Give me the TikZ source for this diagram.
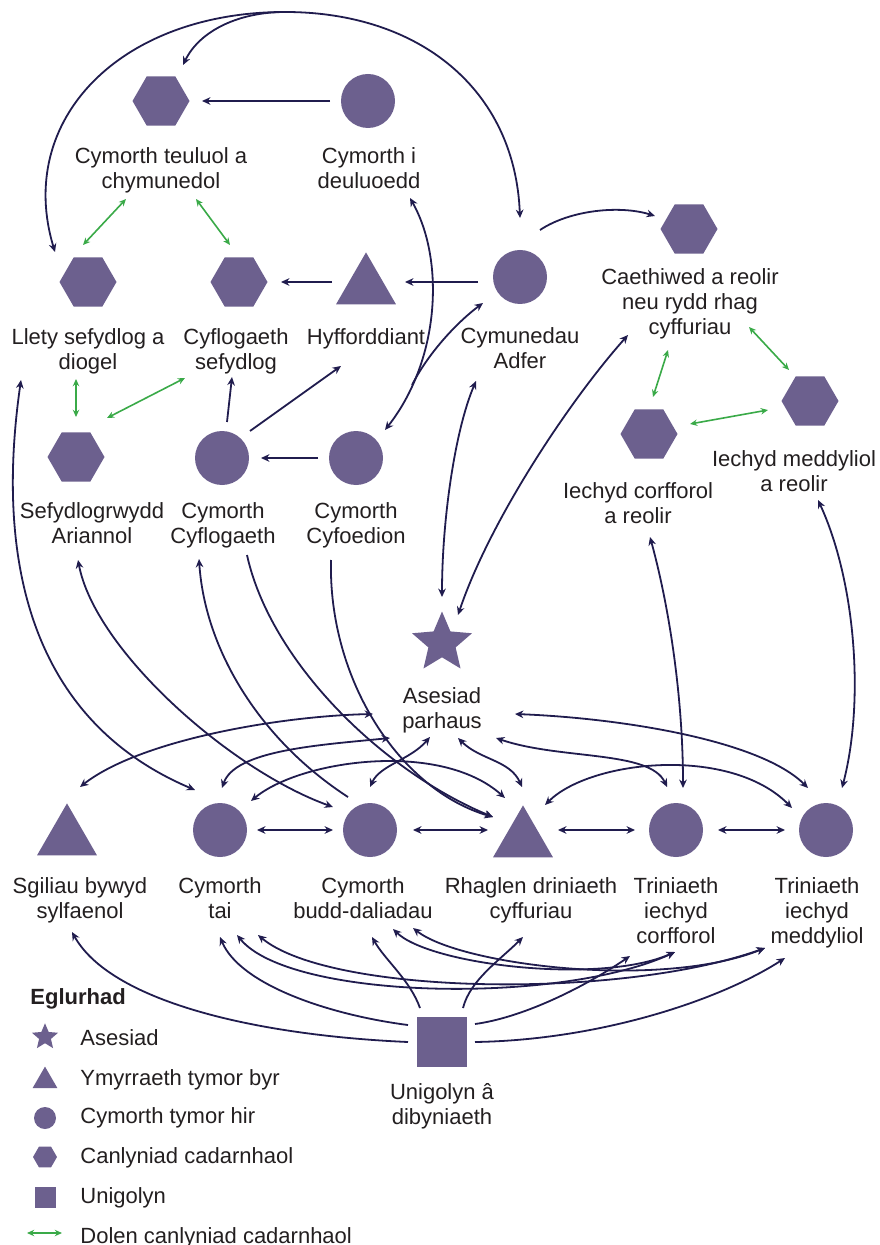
\documentclass[tikz,border=0pt]{standalone}
\usepackage{fontspec}
\setmainfont{Liberation Sans}
\usetikzlibrary{shapes.geometric,arrows.meta,calc}
\definecolor{shp}{RGB}{108,96,142}
\definecolor{lnk}{RGB}{32,28,78}
\definecolor{grn}{RGB}{58,170,72}
\definecolor{txt}{RGB}{35,31,32}
\begin{document}
\begin{tikzpicture}[x=0.5pt,y=-0.5pt,
  hexs/.style={regular polygon,regular polygon sides=6,minimum size=28.5pt,inner sep=0pt,fill=shp,draw=none},
  tris/.style={regular polygon,regular polygon sides=3,minimum size=34.6pt,inner sep=0pt,fill=shp,draw=none},
  circs/.style={circle,minimum size=27pt,inner sep=0pt,fill=shp,draw=none},
  stars/.style={star,star points=5,star point ratio=2.2,minimum size=31.5pt,inner sep=0pt,fill=shp,draw=none},
  sqs/.style={rectangle,minimum size=25pt,inner sep=0pt,fill=shp,draw=none},
  lbl/.style={anchor=north,align=center,inner sep=0pt,font=\fontsize{11}{12.5}\selectfont,text=txt},
  legtxt/.style={anchor=base west,inner sep=0pt,font=\fontsize{11}{12.5}\selectfont,text=txt},
  lnkarr/.style={draw=lnk,line width=0.9pt,-{Stealth[length=4.2pt,width=3.8pt]}},
  lnkbi/.style={draw=lnk,line width=0.9pt,{Stealth[length=4.2pt,width=3.8pt]}-{Stealth[length=4.2pt,width=3.8pt]}},
  grnbi/.style={draw=grn,line width=0.8pt,{Stealth[length=3.6pt,width=3.2pt]}-{Stealth[length=3.6pt,width=3.2pt]}}
]
\fill[white] (0,0) rectangle (879,1245);
\useasboundingbox (0,0) rectangle (879,1245);

% ---- nodes ----
\node[hexs] (cte) at (161,101) {};
\node[lbl] (cteL) at (161,147) {Cymorth teuluol a\\chymunedol};
\node[circs] (cid) at (368,101) {};
\node[lbl] (cidL) at (369,147) {Cymorth i\\deuluoedd};
\node[hexs] (llety) at (88,282) {};
\node[lbl] (lletyL) at (88,328) {Llety sefydlog a\\diogel};
\node[hexs] (cyfs) at (239,282) {};
\node[lbl] (cyfsL) at (236,328) {Cyflogaeth\\sefydlog};
\node[tris] (hyff) at (366,287) {};
\node[lbl] (hyffL) at (366,328) {Hyfforddiant};
\node[circs] (cadf) at (520,277) {};
\node[lbl] (cadfL) at (520,327) {Cymunedau\\Adfer};
\node[hexs] (caeth) at (689,229) {};
\node[lbl] (caethL) at (690,268) {Caethiwed a reolir\\neu rydd rhag\\cyffuriau};
\node[hexs] (sef) at (76,457) {};
\node[lbl] (sefL) at (92,502) {Sefydlogrwydd\\Ariannol};
\node[circs] (ccyf) at (222,458) {};
\node[lbl] (ccyfL) at (223,502) {Cymorth\\Cyflogaeth};
\node[circs] (cyfo) at (356,458) {};
\node[lbl] (cyfoL) at (356,502) {Cymorth\\Cyfoedion};
\node[hexs] (iecc) at (649,434) {};
\node[lbl] (ieccL) at (638,482) {Iechyd corfforol\\a reolir};
\node[hexs] (iecm) at (810,401) {};
\node[lbl] (iecmL) at (794,450) {Iechyd meddyliol\\a reolir};
\node[stars] (ases) at (442,643) {};
\node[lbl] (asesL) at (442,687) {Asesiad\\parhaus};
\node[tris] (sgil) at (67,838) {};
\node[lbl] (sgilL) at (80,877) {Sgiliau bywyd\\sylfaenol};
\node[circs] (tai) at (220,830) {};
\node[lbl] (taiL) at (220,877) {Cymorth\\tai};
\node[circs] (budd) at (370,830) {};
\node[lbl] (buddL) at (363,877) {Cymorth\\budd-daliadau};
\node[tris] (rhag) at (523,840) {};
\node[lbl] (rhagL) at (531,877) {Rhaglen driniaeth\\cyffuriau};
\node[circs] (tcor) at (676,830) {};
\node[lbl] (tcorL) at (676,877) {Triniaeth\\iechyd\\corfforol};
\node[circs] (tmed) at (826,830) {};
\node[lbl] (tmedL) at (817,877) {Triniaeth\\iechyd\\meddyliol};
\node[sqs] (unig) at (442,1042) {};
\node[lbl] (unigL) at (442,1083) {Unigolyn â\\dibyniaeth};

\coordinate (topc) at (285,12);
\coordinate (brB) at (412,385);

% ---- straight arrows ----
\draw[lnkarr] ($(cid)+(-38,0)$) -- ($(cte)+(41,0)$);
\draw[lnkarr] ($(hyff)+(-34,-5)$) -- ($(cyfs)+(42,0)$);
\draw[lnkarr] ($(cadf)+(-42,5)$) -- ($(hyff)+(39,-5)$);
\draw[lnkarr] ($(cyfo)+(-38,0)$) -- ($(ccyf)+(39,0)$);
\draw[lnkarr] ($(ccyf)+(5,-36)$) -- ($(cyfs)+(-7,95)$);
\draw[lnkarr] ($(ccyf)+(28,-27)$) -- ($(hyff)+(-25,79)$);

% ---- curved connectors ----
\draw[lnkbi] ($(cyfo)+(29,-28)$) .. controls (440,360) and (445,260) .. ($(cid)+(42,97)$);
\draw[lnkarr] (brB) .. controls (430,350) and (460,320) .. ($(cadf)+(-37,26)$);
\draw[lnkbi] ($(llety)+(-33,-30)$) .. controls (15,120) and (120,12) .. (topc) .. controls (420,12) and (515,90) .. ($(cadf)+(0,-59)$);
\draw[lnkarr] (topc) .. controls (240,12) and (200,30) .. ($(cte)+(22,-36)$);
\draw[lnkarr] ($(cadf)+(20,-47)$) .. controls (570,210) and (620,205) .. ($(caeth)+(-34,-13)$);
\draw[lnkbi] ($(cadf)+(-44,104)$) .. controls (455,430) and (442,520) .. ($(ases)+(0,-46)$);
\draw[lnkbi] ($(caeth)+(-61,106)$) .. controls (570,400) and (490,520) .. ($(ases)+(16,-28)$);
\draw[lnkbi] ($(llety)+(-67,98)$) .. controls (-5,560) and (30,720) .. ($(tai)+(-25,-40)$);
\draw[lnkbi] ($(sef)+(2,103)$) .. controls (95,650) and (230,770) .. ($(budd)+(-37,-23)$);
\draw[lnkarr] ($(budd)+(-22,-33)$) .. controls (260,740) and (205,650) .. ($(ccyf)+(-23,101)$);
\draw[lnkarr] ($(ccyf)+(25,97)$) .. controls (270,660) and (380,770) .. ($(rhag)+(-30,-23)$);
\draw[lnkarr] ($(cyfo)+(-25,102)$) .. controls (328,680) and (400,790) .. ($(rhag)+(-30,-23)$);
\draw[lnkbi] ($(ases)+(-69,71)$) .. controls (280,716) and (140,740) .. ($(sgil)+(13,-51)$);
\draw[lnkbi] ($(ases)+(-52,95)$) .. controls (320,745) and (235,750) .. ($(tai)+(2,-42)$);
\draw[lnkbi] ($(ases)+(-12,94)$) .. controls (410,760) and (380,765) .. ($(budd)+(0,-43)$);
\draw[lnkbi] ($(tai)+(31,-29)$) .. controls (300,760) and (440,740) .. ($(rhag)+(-18,-42)$);
\draw[lnkbi] ($(ases)+(16,95)$) .. controls (480,760) and (510,760) .. ($(rhag)+(-1,-53)$);
\draw[lnkbi] ($(ases)+(54,95)$) .. controls (560,760) and (650,750) .. ($(tcor)+(-9,-43)$);
\draw[lnkbi] ($(ases)+(73,71)$) .. controls (620,718) and (760,740) .. ($(tmed)+(-18,-42)$);
\draw[lnkbi] ($(rhag)+(22,-35)$) .. controls (590,760) and (730,745) .. ($(tmed)+(-34,-22)$);
\draw[lnkbi] ($(iecc)+(1,103)$) .. controls (670,610) and (683,700) .. ($(tcor)+(7,-42)$);
\draw[lnkbi] ($(iecm)+(8,99)$) .. controls (855,580) and (865,700) .. ($(tmed)+(16,-42)$);

% ---- bottom row ----
\draw[lnkbi] ($(tai)+(37,0)$) -- ($(budd)+(-37,0)$);
\draw[lnkbi] ($(budd)+(43,0)$) -- ($(rhag)+(-35,-10)$);
\draw[lnkbi] ($(rhag)+(35,-10)$) -- ($(tcor)+(-41,0)$);
\draw[lnkbi] ($(tcor)+(42,0)$) -- ($(tmed)+(-41,0)$);

% ---- from Unigolyn ----
\draw[lnkarr] ($(unig)+(-34,0)$) .. controls (250,1035) and (110,1000) .. ($(sgil)+(5,94)$);
\draw[lnkarr] ($(unig)+(-34,-17)$) .. controls (330,1015) and (240,985) .. ($(tai)+(0,107)$);
\draw[lnkarr] ($(unig)+(-22,-34)$) .. controls (410,980) and (385,960) .. ($(budd)+(2,107)$);
\draw[lnkarr] ($(unig)+(21,-34)$) .. controls (470,980) and (500,960) .. ($(rhag)+(0,97)$);
\draw[lnkarr] ($(unig)+(33,-18)$) .. controls (520,1018) and (580,990) .. ($(tcor)+(-46,126)$);
\draw[lnkarr] ($(unig)+(33,0)$) .. controls (600,1040) and (720,1000) .. ($(tmed)+(-41,128)$);

% ---- bundle ----
\draw[lnkbi] ($(tai)+(17,105)$) .. controls (290,1000) and (560,1005) .. ($(tcor)+(-1,122)$);
\draw[lnkbi] ($(tai)+(38,105)$) .. controls (330,995) and (620,1000) .. ($(tmed)+(-61,118)$);
\draw[lnkbi] ($(budd)+(23,99)$) .. controls (430,965) and (600,985) .. ($(tcor)+(-1,122)$);
\draw[lnkbi] ($(budd)+(43,98)$) .. controls (460,965) and (660,990) .. ($(tmed)+(-61,118)$);

% ---- green links ----
\draw[grnbi] ($(cte)+(-35,98)$) -- ($(llety)+(-5,-37)$);
\draw[grnbi] ($(cte)+(35,98)$) -- ($(cyfs)+(-9,-37)$);
\draw[grnbi] ($(llety)+(-12,97)$) -- ($(sef)+(0,-40)$);
\draw[grnbi] ($(sef)+(31,-39)$) -- ($(cyfs)+(-54,96)$);
\draw[grnbi] ($(caeth)+(-21,121)$) -- ($(iecc)+(4,-37)$);
\draw[grnbi] ($(caeth)+(60,98)$) -- ($(iecm)+(-21,-31)$);
\draw[grnbi] ($(iecc)+(41,-10)$) -- ($(iecm)+(-42,9)$);

% ---- legend ----
\node[legtxt,font=\fontsize{11}{12.5}\selectfont\bfseries] (leg) at (30,1004) {Eglurhad};
\node[stars,minimum size=13.7pt] (lstar) at (45,1037) {};
\node[legtxt] (lstarT) at (80,1045) {Asesiad};
\node[tris,minimum size=14.4pt] (ltri) at (45,1081) {};
\node[legtxt] (ltriT) at (80,1085) {Ymyrraeth tymor byr};
\node[circs,minimum size=11pt] (lcirc) at (45,1118) {};
\node[legtxt] (lcircT) at (80,1123) {Cymorth tymor hir};
\node[hexs,minimum size=12pt] (lhex) at (45,1157) {};
\node[legtxt] (lhexT) at (80,1163) {Canlyniad cadarnhaol};
\node[sqs,minimum size=10.5pt] (lsq) at (45,1197) {};
\node[legtxt] (lsqT) at (80,1203) {Unigolyn};
\coordinate (lgA) at (27,1233);
\coordinate (lgB) at (62,1233);
\draw[grnbi] (lgA) -- (lgB);
\node[legtxt] (lgT) at (80,1243) {Dolen canlyniad cadarnhaol};
\end{tikzpicture}
\end{document}
